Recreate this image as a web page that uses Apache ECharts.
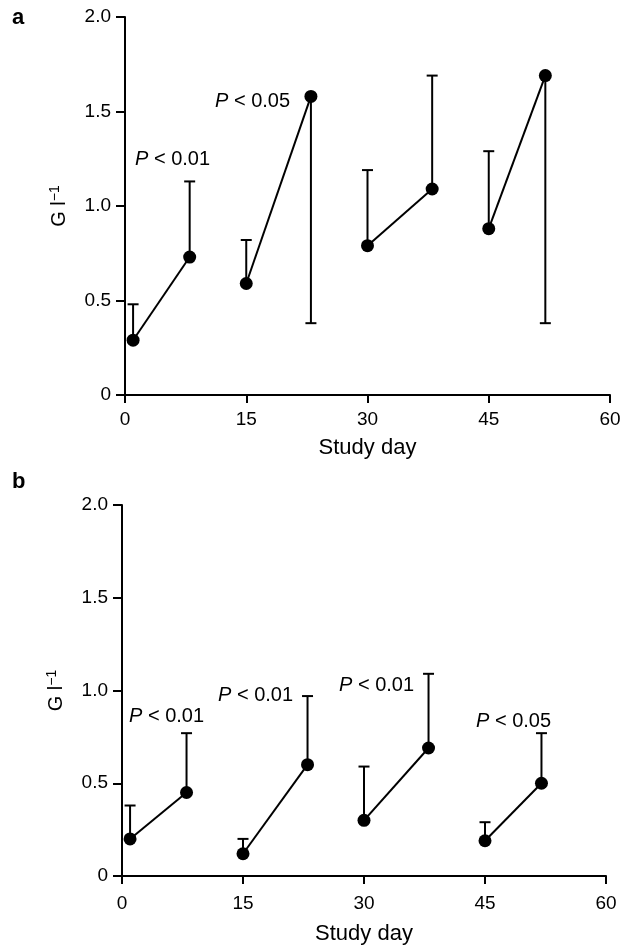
<!DOCTYPE html>
<html>
<head>
<meta charset="utf-8">
<script src="https://cdn.jsdelivr.net/npm/echarts@6/dist/echarts.min.js"></script>
<style>
  html, body { margin: 0; padding: 0; background: #fff; }
  #chart { width: 627px; height: 946px; }
</style>
</head>
<body>
<div id="chart"></div>
<script>
// study days (pairs: before / after each course)
var days = [1, 8, 15, 23, 30, 38, 45, 52];

// panel a: means and end of the error bar
var meanA = [0.29, 0.73, 0.59, 1.58, 0.79, 1.09, 0.88, 1.69];
var barA = [0.48, 1.13, 0.82, 0.38, 1.19, 1.69, 1.29, 0.38];

// panel b
var meanB = [0.20, 0.45, 0.12, 0.60, 0.30, 0.69, 0.19, 0.50];
var barB = [0.38, 0.77, 0.20, 0.97, 0.59, 1.09, 0.29, 0.77];

// significance labels
var pA = ['0.01', '0.05'];
var pB = ['0.01', '0.01', '0.01', '0.05'];

var xTicks = [0, 15, 30, 45, 60];
var yTicks = [0, 0.5, 1.0, 1.5, 2.0];

(function() {
  var ink = '#000';
  var font = '"Liberation Sans", Arial, sans-serif';
  var chart = echarts.init(document.getElementById('chart'));

  // pixel anchors for the P labels (left, middle)
  var spotsA = [[135, 158], [215, 100]];
  var spotsB = [[129, 715], [218, 694], [339, 684], [476, 720]];

  function errBar(params, api) {
    var p0 = api.coord([api.value(0), api.value(1)]);
    var p1 = api.coord([api.value(0), api.value(2)]);
    var st = { stroke: ink, lineWidth: 2 };
    return {
      type: 'group',
      children: [
        { type: 'line', shape: { x1: p0[0], y1: p0[1], x2: p1[0], y2: p1[1] }, style: st },
        { type: 'line', shape: { x1: p1[0] - 5.5, y1: p1[1], x2: p1[0] + 5.5, y2: p1[1] }, style: st }
      ]
    };
  }

  function xAxis(idx, labelGap, nameGap) {
    return {
      type: 'value', gridIndex: idx,
      min: xTicks[0], max: xTicks[xTicks.length - 1], interval: 15,
      name: 'Study day', nameLocation: 'middle', nameGap: nameGap,
      nameTextStyle: { color: ink, fontSize: 22, fontFamily: font },
      axisLine: { show: true, onZero: false, lineStyle: { color: ink, width: 2 } },
      axisTick: { show: true, length: 8, lineStyle: { color: ink, width: 2 } },
      axisLabel: { color: ink, fontSize: 19, fontFamily: font, margin: labelGap },
      splitLine: { show: false }
    };
  }

  function yAxis(idx) {
    return {
      type: 'value', gridIndex: idx,
      min: yTicks[0], max: yTicks[yTicks.length - 1], interval: 0.5,
      name: '{b|G l}{s|\u22121}', nameLocation: 'middle', nameRotate: 90, nameGap: 55,
      nameTextStyle: {
        color: ink, fontSize: 20, fontFamily: font,
        rich: {
          b: { fontSize: 20, fontFamily: font, color: ink, lineHeight: 22 },
          s: { fontSize: 14, fontFamily: font, color: ink, lineHeight: 14, verticalAlign: 'top' }
        }
      },
      axisLine: { show: true, onZero: false, lineStyle: { color: ink, width: 2 } },
      axisTick: { show: true, length: 9, lineStyle: { color: ink, width: 2 } },
      axisLabel: {
        color: ink, fontSize: 19, fontFamily: font, margin: 14,
        formatter: function(v) { return v === 0 ? '0' : v.toFixed(1); }
      },
      splitLine: { show: false }
    };
  }

  function panelSeries(idx, mean, bar) {
    var out = [];
    out.push({
      type: 'custom', xAxisIndex: idx, yAxisIndex: idx,
      renderItem: errBar,
      data: days.map(function(d, i) { return [d, mean[i], bar[i]]; }),
      encode: { x: 0, y: [1, 2] },
      z: 2
    });
    for (var i = 0; i < days.length; i += 2) {
      out.push({
        type: 'line', xAxisIndex: idx, yAxisIndex: idx,
        data: [[days[i], mean[i]], [days[i + 1], mean[i + 1]]],
        symbol: 'circle', symbolSize: 13,
        itemStyle: { color: ink },
        lineStyle: { color: ink, width: 2 },
        z: 3
      });
    }
    return out;
  }

  function pText(spots, vals) {
    return vals.map(function(v, i) {
      return {
        type: 'text', left: spots[i][0], top: spots[i][1] - 9,
        style: {
          text: '{i|P} < ' + v,
          fill: ink, font: '20px ' + font,
          rich: { i: { fontStyle: 'italic', fontSize: 20, fontFamily: font, fill: ink } }
        }
      };
    });
  }

  var graphics = [
    { type: 'text', left: 12, top: 7, style: { text: 'a', fill: ink, font: 'bold 22px ' + font } },
    { type: 'text', left: 12, top: 471, style: { text: 'b', fill: ink, font: 'bold 22px ' + font } }
  ].concat(pText(spotsA, pA)).concat(pText(spotsB, pB));

  chart.setOption({
    animation: false,
    backgroundColor: '#fff',
    grid: [
      { left: 125, right: 17, top: 17, height: 378 },
      { left: 122, right: 21, top: 505, height: 373 }
    ],
    xAxis: [xAxis(0, 15, 42), xAxis(1, 18, 47)],
    yAxis: [yAxis(0), yAxis(1)],
    graphic: graphics,
    series: panelSeries(0, meanA, barA).concat(panelSeries(1, meanB, barB))
  });

  window.addEventListener('resize', function() { chart.resize(); });
})();
</script>
</body>
</html>
